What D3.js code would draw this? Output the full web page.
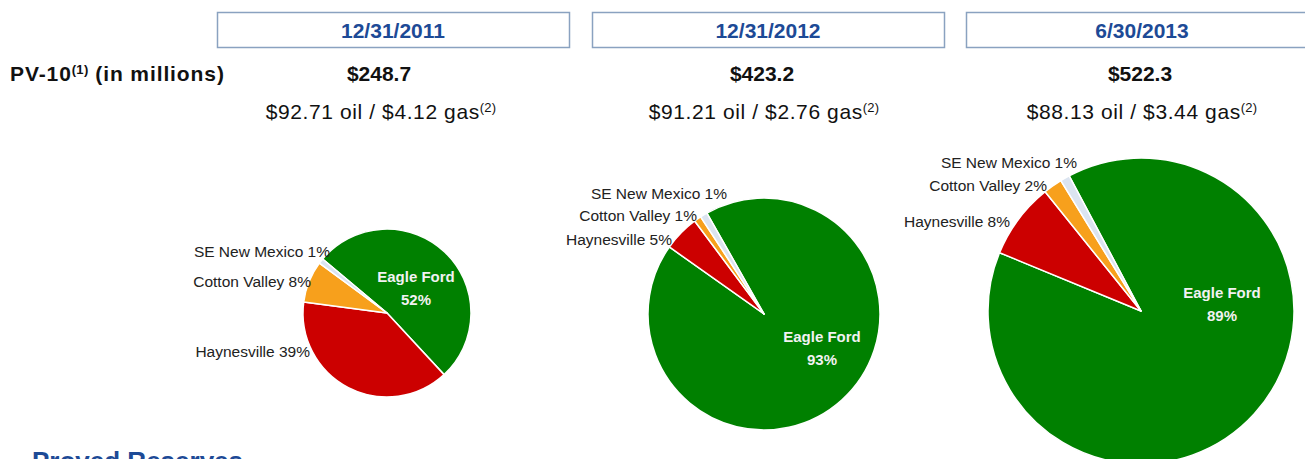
<!DOCTYPE html>
<html>
<head>
<meta charset="utf-8">
<script src="https://cdn.jsdelivr.net/npm/d3@7"></script>
<style>
  body { margin: 0; background: #fff; }
  svg { display: block; font-family: "Liberation Sans", Arial, Helvetica, sans-serif; }
</style>
</head>
<body>
<svg id="chart" width="1305" height="459"></svg>
<script>
// data
var dates = ["12/31/2011", "12/31/2012", "6/30/2013"];
var pv10 = [248.7, 423.2, 522.3];
var oilPrice = [92.71, 91.21, 88.13];
var gasPrice = [4.12, 2.76, 3.44];
var regions = ["Eagle Ford", "Haynesville", "Cotton Valley", "SE New Mexico"];
var share2011 = [52, 39, 8, 1];
var share2012 = [93, 5, 1, 1];
var share2013 = [89, 8, 2, 1];
var shares = [share2011, share2012, share2013];

// layout
var boxX = [217, 592, 966];
var colX = [379, 762, 1140];
var pies = [
  {cx: 387, cy: 313, r: 84, start: -50, inner: [29, -36],
   outer: [null, [-77, 44], [-76, -26], [-57, -56]]},
  {cx: 764, cy: 314, r: 116, start: -29.5, inner: [58, 23],
   outer: [null, [-92, -69], [-67, -93], [-37, -115]]},
  {cx: 1141, cy: 311, r: 153, start: -28, inner: [81, -18],
   outer: [null, [-131, -84], [-94, -120], [-64, -143]]}
];

var color = d3.scaleOrdinal()
  .domain(regions)
  .range(["#008000", "#cc0000", "#f7a01c", "#dbe4f0"]);

var svg = d3.select("#chart");

// header boxes
var head = svg.selectAll(".head")
  .data(dates)
  .enter()
  .append("g")
  .attr("class", "head")
  .attr("transform", function(d, i) {return "translate(" + boxX[i] + ",12)";});

head.append("rect")
  .attr("x", 0.5)
  .attr("y", 0.5)
  .attr("width", 352)
  .attr("height", 35)
  .style("fill", "#fff")
  .style("stroke", "#8aa2c0")
  .style("stroke-width", 1.5);

head.append("text")
  .attr("x", 176)
  .attr("y", 26)
  .attr("text-anchor", "middle")
  .style("font-size", "21px")
  .style("font-weight", "bold")
  .style("fill", "#1d4a96")
  .text(function(d) {return d;});

// PV-10 row
var pvLabel = svg.append("text")
  .attr("x", 10)
  .attr("y", 81)
  .style("font-size", "21px")
  .style("font-weight", "bold")
  .style("letter-spacing", "0.9px")
  .style("fill", "#111");
pvLabel.append("tspan").text("PV-10");
pvLabel.append("tspan").attr("dy", -7).style("font-size", "13px").style("letter-spacing", "0.3px").text("(1)");
pvLabel.append("tspan").attr("dy", 7).text(" (in millions)");

svg.selectAll(".pv")
  .data(pv10)
  .enter()
  .append("text")
  .attr("class", "pv")
  .attr("x", function(d, i) {return colX[i];})
  .attr("y", 81)
  .attr("text-anchor", "middle")
  .style("font-size", "21px")
  .style("font-weight", "bold")
  .style("fill", "#111")
  .text(function(d) {return "$" + d3.format(".1f")(d);});

// price row
var price = svg.selectAll(".price")
  .data(oilPrice)
  .enter()
  .append("text")
  .attr("class", "price")
  .attr("x", function(d, i) {return colX[i] + 2;})
  .attr("y", 119)
  .attr("text-anchor", "middle")
  .style("font-size", "21px")
  .style("letter-spacing", "0.6px")
  .style("fill", "#111");
price.append("tspan")
  .text(function(d, i) {return "$" + d3.format(".2f")(d) + " oil / $" + d3.format(".2f")(gasPrice[i]) + " gas";});
price.append("tspan")
  .attr("dy", -7)
  .style("font-size", "13px")
  .style("letter-spacing", "0.2px")
  .text("(2)");

// pies
var arc = d3.arc().innerRadius(0);

pies.forEach(function(p, k) {
  var rad = p.start * Math.PI / 180;
  var pie = d3.pie()
    .sort(null)
    .value(function(d) {return d.value;})
    .startAngle(rad)
    .endAngle(rad + 2 * Math.PI);

  var rows = regions.map(function(name, i) {return {name: name, value: shares[k][i], idx: i};});

  var g = svg.append("g")
    .attr("transform", "translate(" + p.cx + "," + p.cy + ")");

  g.selectAll("path")
    .data(pie(rows))
    .enter()
    .append("path")
    .attr("d", arc.outerRadius(p.r))
    .style("fill", function(d) {return color(d.data.name);})
    .style("stroke", "#fff")
    .style("stroke-width", 1.5)
    .style("stroke-linejoin", "round");

  // outside labels
  g.selectAll(".outl")
    .data(rows.filter(function(d) {return p.outer[d.idx];}))
    .enter()
    .append("text")
    .attr("class", "outl")
    .attr("x", function(d) {return p.outer[d.idx][0];})
    .attr("y", function(d) {return p.outer[d.idx][1];})
    .attr("text-anchor", "end")
    .style("font-size", "15.5px")
    .style("fill", "#222")
    .text(function(d) {return d.name + " " + d.value + "%";});

  // Eagle Ford label
  var lab = g.append("text")
    .attr("x", p.inner[0])
    .attr("y", p.inner[1] + 5)
    .attr("text-anchor", "middle")
    .style("font-size", "15px")
    .style("font-weight", "bold")
    .style("fill", "#f2f2f2");
  lab.append("tspan").text(rows[0].name);
  lab.append("tspan")
    .attr("x", p.inner[0])
    .attr("dy", 23)
    .text(rows[0].value + "%");
});

// section heading at bottom (cut off in the source too)
svg.append("text")
  .attr("x", 32)
  .attr("y", 470)
  .style("font-size", "26px")
  .style("font-weight", "bold")
  .style("fill", "#1d4a96")
  .text("Proved Reserves");
</script>
</body>
</html>
